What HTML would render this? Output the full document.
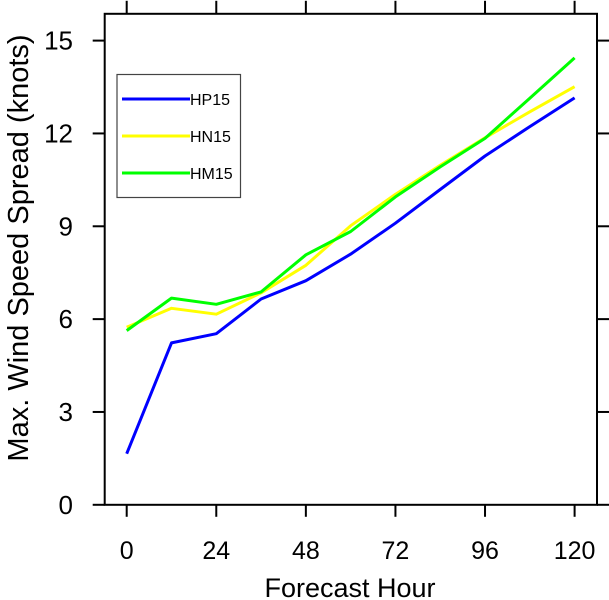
<!DOCTYPE html>
<html><head><meta charset="utf-8"><style>
html,body{margin:0;padding:0;background:#fff;}
svg{display:block;font-family:"Liberation Sans",Arial,sans-serif;}
</style></head><body>
<svg id="chart" width="609" height="600" viewBox="0 0 609 600" xmlns="http://www.w3.org/2000/svg">
<rect x="104.7" y="13.8" width="492.3" height="491" fill="none" stroke="#000" stroke-width="2"/>
<g id="axes"></g>
<g id="series"></g>
<g>
<rect x="117" y="74.5" width="123.5" height="123" fill="#fff" stroke="#444" stroke-width="1.2"/>
<g id="legend-items"></g>
</g>
<text x="350" y="597" font-size="27" text-anchor="middle">Forecast Hour</text>
<text transform="translate(28,248) rotate(-90)" font-size="29" text-anchor="middle">Max. Wind Speed Spread (knots)</text>
</svg>
<script>
const hours = [0,12,24,36,48,60,72,84,96,108,120];
const hp15 = [1.65,5.23,5.53,6.65,7.24,8.10,9.10,10.19,11.27,12.22,13.15];
const hn15 = [5.74,6.35,6.16,6.85,7.74,9.02,10.03,10.97,11.86,12.70,13.51];
const hm15 = [5.63,6.68,6.48,6.88,8.08,8.83,9.95,10.92,11.84,13.14,14.44];
const xTicks = [0,24,48,72,96,120];
const yTicks = [0,3,6,9,12,15];
const seriesNames = ["HP15","HN15","HM15"];
const NS="http://www.w3.org/2000/svg";
const X0=126.7, X1=574.6, Y0=504.8, Y15=40.6;
const FL=104.7, FR=597, FT=13.8, FB=504.8;
function xs(h){return X0+(h-0)/(120-0)*(X1-X0);}
function ys(v){return Y0-(v/15)*(Y0-Y15);}
function mk(tag,attrs,parent){const e=document.createElementNS(NS,tag);for(const k in attrs)e.setAttribute(k,attrs[k]);parent.appendChild(e);return e;}
const axes=document.getElementById('axes');
xTicks.forEach(t=>{
  const x=xs(t);
  const a=mk('line',{x1:x,x2:x,y1:FB,y2:FB+12,stroke:'#000','stroke-width':2},axes);
  
  
  const b=mk('line',{x1:x,x2:x,y1:FT,y2:FT-13,stroke:'#000','stroke-width':2},axes);
  
  
  const l=mk('text',{x:x,y:559,'font-size':25,'text-anchor':'middle'},axes);
  l.textContent=t;
  
  
});
yTicks.forEach(t=>{
  const y=ys(t);
  const a=mk('line',{x1:FL,x2:FL-12,y1:y,y2:y,stroke:'#000','stroke-width':2},axes);
  
  
  const b=mk('line',{x1:FR,x2:FR+12,y1:y,y2:y,stroke:'#000','stroke-width':2},axes);
  
  
  const l=mk('text',{x:73,y:y+9,'font-size':26,'text-anchor':'end'},axes);
  l.textContent=t;
  
  
});
const sg=document.getElementById('series');
const colors=['#0000ff','#ffff00','#00ff00'];
[hp15,hn15,hm15].forEach((vals,i)=>{
  const pts=vals.map((v,j)=>xs(hours[j]).toFixed(1)+','+ys(v).toFixed(1)).join(' ');
  const p=mk('polyline',{points:pts,fill:'none',stroke:colors[i],'stroke-width':3,'stroke-linejoin':'round'},sg);
  
  
});
const lg=document.getElementById('legend-items');
seriesNames.forEach((n,i)=>{
  const y=99+i*37;
  const ln=mk('line',{x1:122,x2:190,y1:y,y2:y,stroke:colors[i],'stroke-width':3},lg);
  
  
  const t=mk('text',{x:190,y:y+6,'font-size':16},lg);
  t.textContent=n;
  
  
});
</script>
</body></html>
